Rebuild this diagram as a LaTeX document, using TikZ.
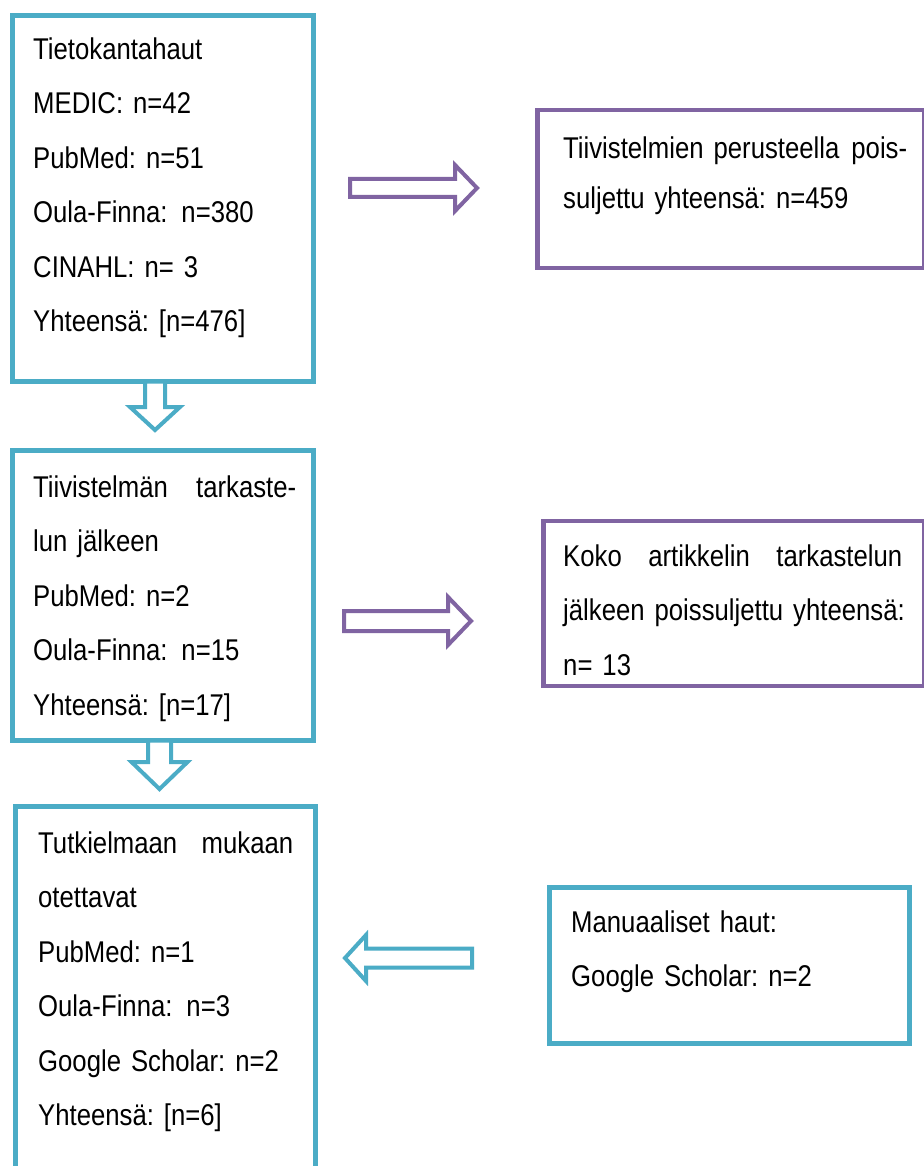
\documentclass[tikz,border=0pt]{standalone}
\usepackage{fontspec}
\setmainfont{Liberation Sans}[FakeStretch=0.857]
\usetikzlibrary{calc}
\definecolor{boxteal}{HTML}{4BACC6}
\definecolor{boxpurple}{HTML}{8064A2}

% hollow block arrow: style, from, to, shaft half width, head half width, head length
\newcommand{\blockarrow}[6]{%
  \coordinate (ah) at ($(#3)!#6!(#2)$);
  \draw[#1] ($(#2)!#4!90:(#3)$) -- ($(ah)!#4!-90:(#2)$) -- ($(ah)!#5!-90:(#2)$) -- (#3)
    -- ($(ah)!#5!90:(#2)$) -- ($(ah)!#4!90:(#2)$) -- ($(#2)!#4!-90:(#3)$) -- cycle;
}

\begin{document}
\begin{tikzpicture}[x=1pt,y=-1pt,
    tealbox/.style={draw=boxteal,line width=4.5pt,rectangle,inner sep=0pt,outer sep=0pt,anchor=north west},
    purplebox/.style={draw=boxpurple,line width=4.5pt,rectangle,inner sep=0pt,outer sep=0pt,anchor=north west},
    txt/.style={anchor=base west,inner sep=0pt,text width=#1,font=\fontsize{30}{54.5}\selectfont\frenchspacing},
    tealarrow/.style={draw=boxteal,line width=4pt,fill=white},
    purplearrow/.style={draw=boxpurple,line width=4pt,fill=white}]
  \fill[white] (0,0) rectangle (923,1166);
  \useasboundingbox (0,0) rectangle (923,1166);

  % left column
  \node[tealbox,minimum width=301pt,minimum height=366pt] (search) at (12.5,15.5) {};
  \node[tealbox,minimum width=301pt,minimum height=290pt] (screen) at (12.5,450.5) {};
  \node[tealbox,minimum width=300pt,minimum height=400pt] (incl) at (15.5,806.5) {};

  % right column
  \node[purplebox,minimum width=386.5pt,minimum height=158pt] (excl1) at (537.5,110) {};
  \node[purplebox,minimum width=380.5pt,minimum height=165pt] (excl2) at (543.5,521) {};
  \node[tealbox,minimum width=360pt,minimum height=156pt] (manual) at (549.5,887.5) {};

  \node[txt=290pt] (searchtxt) at (33,59.3) {Tietokantahaut\\MEDIC: n=42\\PubMed: n=51\\Oula-Finna:\kern4pt{} n=380\\CINAHL: n= 3\\Yhteensä: [n=476]};
  \node[txt=290pt] (screentxt) at (33,497) {\makebox[263pt][s]{Tiivistelmän\hfill tarkaste-}\\lun jälkeen\\PubMed: n=2\\Oula-Finna:\kern4pt{} n=15\\Yhteensä: [n=17]};
  \node[txt=290pt] (incltxt) at (38,853) {\makebox[255pt][s]{Tutkielmaan\hfill mukaan}\\otettavat\\PubMed: n=1\\Oula-Finna:\kern4pt{} n=3\\Google Scholar: n=2\\Yhteensä: [n=6]};
  \node[txt=350pt,font=\fontsize{30}{49.5}\selectfont\frenchspacing] (excl1txt) at (563,159) {\makebox[344pt][s]{Tiivistelmien perusteella\hfill pois-}\\suljettu yhteensä: n=459};
  \node[txt=350pt] (excl2txt) at (563,566) {\makebox[339pt][s]{Koko\hfill artikkelin\hfill tarkastelun}\\jälkeen poissuljettu yhteensä:\\n= 13};
  \node[txt=340pt] (manualtxt) at (571,932) {Manuaaliset haut:\\Google Scholar: n=2};

  % block arrows
  \coordinate (d1s) at ([xshift=-8pt]search.south);
  \coordinate (d1e) at (155,430);
  \coordinate (d2s) at ([xshift=-3.5pt]screen.south);
  \coordinate (d2e) at (159.5,789);
  \coordinate (r1s) at (350,188);
  \coordinate (r1e) at (477,188);
  \coordinate (r2s) at (344,621);
  \coordinate (r2e) at (471,621);
  \coordinate (l3s) at (472,958);
  \coordinate (l3e) at (345,958);
  \blockarrow{tealarrow}{d1s}{d1e}{10pt}{25pt}{23pt}
  \blockarrow{tealarrow}{d2s}{d2e}{11.5pt}{28pt}{27pt}
  \blockarrow{purplearrow}{r1s}{r1e}{9pt}{23pt}{22pt}
  \blockarrow{purplearrow}{r2s}{r2e}{10pt}{24pt}{23pt}
  \blockarrow{tealarrow}{l3s}{l3e}{9.5pt}{23pt}{21pt}
\end{tikzpicture}
\end{document}
